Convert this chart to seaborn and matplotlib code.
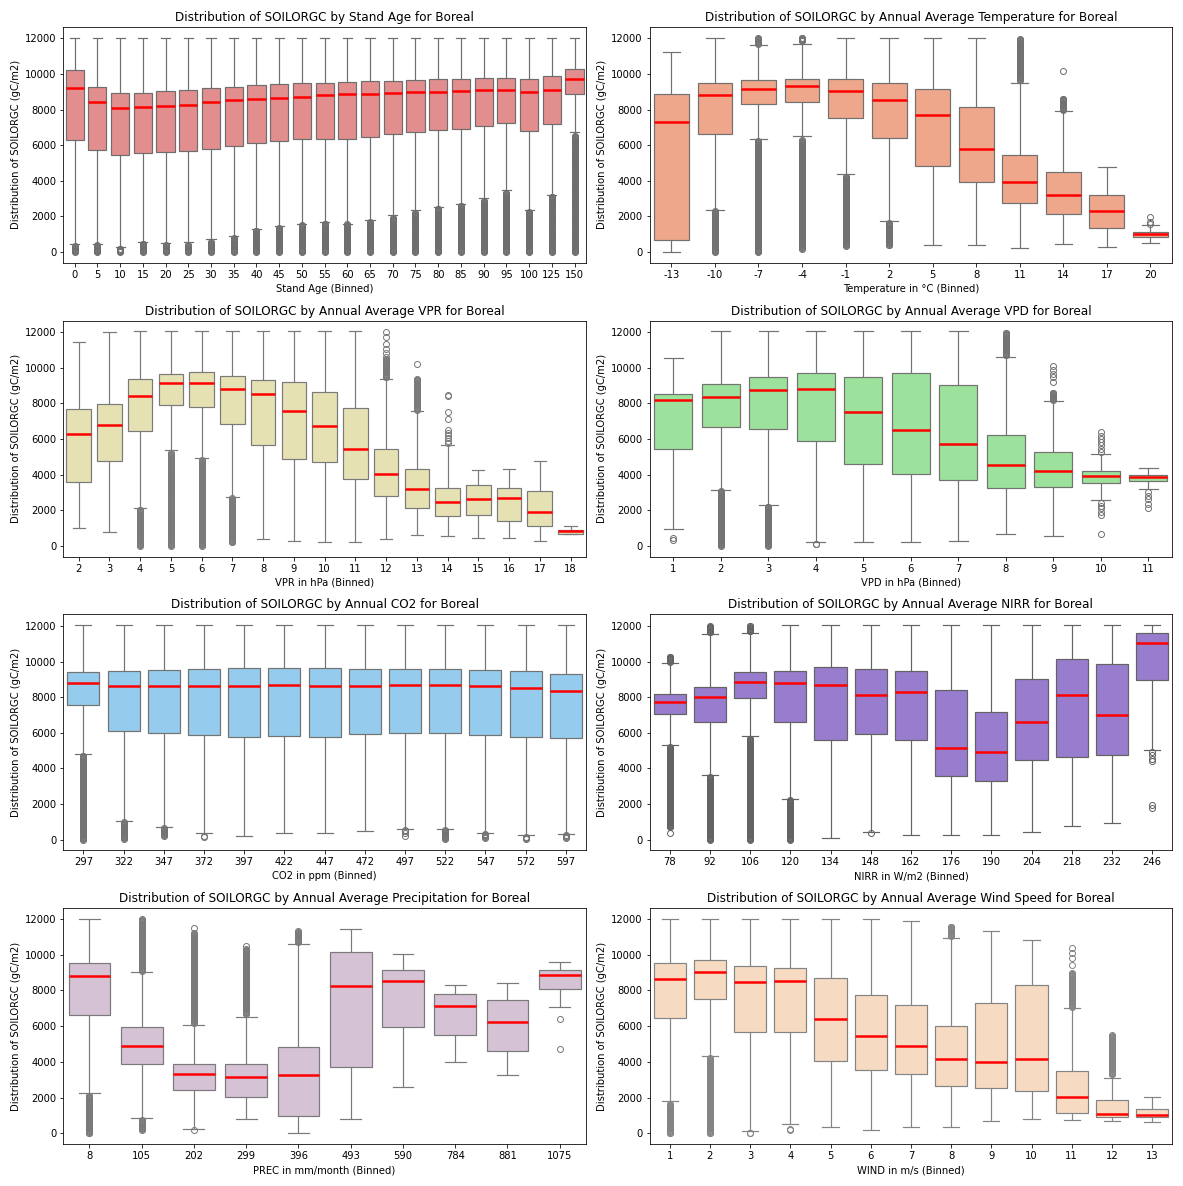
import numpy as np
import pandas as pd
import matplotlib
matplotlib.use("Agg")
import matplotlib.pyplot as plt
import seaborn as sns

# ---------------- data ----------------
# Stand Age
age_bins = ['0', '5', '10', '15', '20', '25', '30', '35', '40', '45', '50', '55', '60', '65',
            '70', '75', '80', '85', '90', '95', '100', '125', '150']
age_q1 = [6300, 5760, 5460, 5590, 5630, 5680, 5810, 5930, 6150, 6260, 6340, 6370, 6370, 6490,
          6620, 6750, 6860, 6920, 7080, 7270, 6800, 7210, 8860]
age_med = [9200, 8410, 8090, 8170, 8220, 8280, 8410, 8520, 8620, 8670, 8730, 8800, 8860, 8860,
           8930, 8970, 8970, 9050, 9100, 9100, 8990, 9100, 9740]
age_q3 = [10220, 9290, 8950, 8950, 9050, 9100, 9210, 9290, 9400, 9460, 9510, 9510, 9570, 9630,
          9630, 9680, 9740, 9740, 9790, 9790, 9740, 9870, 10280]
age_wlo = [430, 480, 300, 560, 480, 480, 660, 900, 1280, 1470, 1600, 1680, 1680, 1760,
           2000, 2280, 2540, 2680, 2980, 3420, 2330, 3230, 6620]
age_whi = [12050] * 23
age_out_ranges = {'0': [(0, 350)], '5': [(0, 400)], '10': [(0, 220)], '15': [(0, 480)],
                  '20': [(0, 400)], '25': [(0, 400)], '30': [(0, 585)], '35': [(0, 830)],
                  '40': [(0, 1200)], '45': [(0, 1390)], '50': [(0, 1540)], '55': [(0, 1610)],
                  '60': [(0, 1610)], '65': [(0, 1690)], '70': [(0, 1930)], '75': [(0, 2210)],
                  '80': [(0, 2470)], '85': [(0, 2600)], '90': [(0, 2900)], '95': [(0, 3350)],
                  '100': [(0, 2250)], '125': [(0, 3150)], '150': [(0, 6550)]}
age_out_points = {}

# Temperature
temp_bins = ['-13', '-10', '-7', '-4', '-1', '2', '5', '8', '11', '14', '17', '20']
temp_q1 = [690, 6620, 8300, 8450, 7550, 6390, 4860, 3940, 2730, 2150, 1380, 860]
temp_med = [7290, 8800, 9160, 9330, 9050, 8560, 7700, 5790, 3930, 3230, 2280, 1010]
temp_q3 = [8900, 9480, 9640, 9740, 9700, 9480, 9180, 8130, 5480, 4470, 3200, 1120]
temp_wlo = [0, 2370, 6340, 6390, 4360, 1740, 410, 410, 220, 470, 300, 520]
temp_whi = [11210, 12050, 11630, 11780, 12050, 12050, 12050, 12050, 9510, 7910, 4770, 1510]
temp_out_ranges = {'-10': [(0, 2300)], '-7': [(0, 6250), (11700, 12050)],
                   '-4': [(200, 6300), (11850, 12050)], '-1': [(350, 4250)], '2': [(380, 1650)],
                   '11': [(9650, 12000)], '14': [(7980, 8650)]}
temp_out_points = {'14': [10170], '20': [1600, 1680, 1960]}

# VPR
vpr_bins = [str(v) for v in range(2, 19)]
vpr_q1 = [3610, 4790, 6470, 7930, 7790, 6820, 5640, 4900, 4730, 3740, 2800, 2150, 1680, 1760, 1400, 1120, 690]
vpr_med = [6260, 6790, 8410, 9140, 9140, 8800, 8520, 7590, 6730, 5440, 4060, 3180, 2490, 2650, 2710, 1910, 820]
vpr_q3 = [7660, 7960, 9350, 9640, 9760, 9530, 9330, 9180, 8650, 7720, 5460, 4320, 3270, 3440, 3250, 3080, 880]
vpr_wlo = [990, 800, 2150, 5270, 4950, 2750, 360, 300, 220, 220, 360, 600, 540, 470, 470, 300, 650]
vpr_whi = [11440, 12040, 12050, 12050, 12050, 12050, 12050, 12050, 12050, 12050, 9360, 7610, 5640,
           4280, 4320, 4790, 1120]
vpr_out_ranges = {'4': [(0, 2050)], '5': [(0, 5200)], '6': [(0, 4800)], '7': [(200, 2700)],
                  '12': [(9460, 10500)], '13': [(7650, 9400)]}
vpr_out_points = {'12': [10600, 10840, 11060, 11350, 11720, 12040], '13': [10220],
                  '14': [5750, 5900, 6050, 6200, 6350, 6500, 7130, 7510, 8400, 8500]}

# VPD
vpd_bins = [str(v) for v in range(1, 12)]
vpd_q1 = [5420, 6690, 6580, 5890, 4580, 4020, 3680, 3270, 3310, 3550, 3630]
vpd_med = [8170, 8360, 8750, 8800, 7530, 6490, 5720, 4560, 4220, 3930, 3870]
vpd_q3 = [8540, 9070, 9480, 9700, 9480, 9700, 9010, 6210, 5250, 4190, 3960]
vpd_wlo = [930, 3160, 2280, 190, 220, 220, 300, 640, 540, 2580, 3220]
vpd_whi = [10580, 12050, 12050, 12050, 12050, 12050, 12050, 10640, 8150, 5180, 4370]
vpd_out_ranges = {'2': [(0, 3100)], '3': [(0, 2200)], '8': [(10700, 12000)], '9': [(8200, 8600)]}
vpd_out_points = {'1': [350, 450], '4': [80, 130], '9': [9230, 9480, 9660, 9850, 10130],
                  '10': [5300, 5450, 5650, 5850, 6000, 6150, 6400, 2400, 2250, 2100, 1900, 1750, 690],
                  '11': [3000, 2800, 2620, 2350, 2130]}

# CO2
co2_bins = ['297', '322', '347', '372', '397', '422', '447', '472', '497', '522', '547', '572', '597']
co2_q1 = [7560, 6100, 5990, 5900, 5770, 5820, 5770, 5930, 5990, 5990, 5880, 5770, 5710]
co2_med = [8810, 8620, 8620, 8620, 8620, 8700, 8620, 8620, 8700, 8700, 8620, 8530, 8360]
co2_q3 = [9400, 9480, 9540, 9570, 9630, 9630, 9630, 9570, 9570, 9570, 9540, 9480, 9290]
co2_wlo = [4800, 1060, 730, 370, 190, 355, 355, 430, 620, 620, 355, 240, 300]
co2_whi = [12050] * 13
co2_out_ranges = {'297': [(0, 4750)], '322': [(50, 1000)], '347': [(230, 650)],
                  '522': [(50, 550)], '547': [(120, 330)], '572': [(40, 170)], '597': [(115, 260)]}
co2_out_points = {'372': [150, 200], '497': [200, 350, 500, 560]}

# NIRR
nirr_bins = ['78', '92', '106', '120', '134', '148', '162', '176', '190', '204', '218', '232', '246']
nirr_q1 = [7040, 6590, 7970, 6590, 5580, 5930, 5580, 3560, 3320, 4500, 4650, 4780, 8980]
nirr_med = [7760, 7990, 8860, 8810, 8700, 8120, 8290, 5150, 4930, 6620, 8100, 7020, 11030]
nirr_q3 = [8190, 8600, 9420, 9480, 9700, 9590, 9480, 8380, 7150, 9030, 10170, 9850, 11630]
nirr_wlo = [5300, 3620, 5770, 2300, 90, 450, 240, 240, 240, 430, 770, 930, 5020]
nirr_whi = [9930, 11550, 11640, 12050, 12050, 12050, 12050, 12050, 12050, 12050, 12050, 12050, 12050]
nirr_out_ranges = {'78': [(700, 5200), (10000, 10280)], '92': [(0, 3550), (11650, 12010)],
                   '106': [(0, 5700), (11700, 12050)], '120': [(0, 2250)]}
nirr_out_points = {'78': [355], '148': [360], '246': [4900, 4750, 4550, 4400, 1950, 1800]}

# Precipitation
prec_bins = ['8', '105', '202', '299', '396', '493', '590', '784', '881', '1075']
prec_q1 = [6620, 3870, 2410, 2020, 950, 3700, 5940, 5500, 4600, 8070]
prec_med = [8800, 4880, 3310, 3140, 3250, 8240, 8520, 7120, 6220, 8860]
prec_q3 = [9530, 5940, 3870, 3870, 4820, 10150, 9140, 7790, 7460, 9140]
prec_wlo = [2190, 840, 260, 785, 0, 785, 2580, 3980, 3250, 7060]
prec_whi = [12000, 9080, 6170, 6500, 10600, 11440, 10040, 8300, 8410, 9590]
prec_out_ranges = {'8': [(0, 2150)], '105': [(200, 760), (9100, 12000)],
                   '202': [(6200, 11200)], '299': [(6700, 10300)], '396': [(10700, 11300)]}
prec_out_points = {'202': [11500, 200], '299': [10500], '1075': [6400, 4700]}

# Wind speed
wind_bins = [str(v) for v in range(1, 14)]
wind_q1 = [6450, 7510, 5660, 5660, 4040, 3530, 3310, 2640, 2520, 2360, 1120, 900, 900]
wind_med = [8640, 9030, 8470, 8520, 6390, 5440, 4880, 4150, 3980, 4150, 2020, 1070, 1010]
wind_q3 = [9530, 9700, 9360, 9250, 8690, 7740, 7180, 6000, 7290, 8300, 3480, 1850, 1350]
wind_wlo = [1680, 4320, 150, 505, 340, 220, 390, 390, 670, 790, 730, 670, 620]
wind_whi = [12000, 12000, 12000, 12000, 12000, 12000, 11890, 10940, 11330, 10820, 7000, 3080, 2190]
wind_out_ranges = {'1': [(0, 1650)], '2': [(0, 4200)], '4': [(200, 260)],
                   '8': [(11050, 11600)], '11': [(7100, 9000)], '12': [(3300, 5500)]}
wind_out_points = {'3': [0, 50], '11': [9400, 9800, 10100, 10400]}

panels = [
    ("Stand Age", "Stand Age (Binned)", "lightcoral",
     age_bins, age_q1, age_med, age_q3, age_wlo, age_whi, age_out_ranges, age_out_points),
    ("Annual Average Temperature", "Temperature in °C (Binned)", "lightsalmon",
     temp_bins, temp_q1, temp_med, temp_q3, temp_wlo, temp_whi, temp_out_ranges, temp_out_points),
    ("Annual Average VPR", "VPR in hPa (Binned)", "palegoldenrod",
     vpr_bins, vpr_q1, vpr_med, vpr_q3, vpr_wlo, vpr_whi, vpr_out_ranges, vpr_out_points),
    ("Annual Average VPD", "VPD in hPa (Binned)", "lightgreen",
     vpd_bins, vpd_q1, vpd_med, vpd_q3, vpd_wlo, vpd_whi, vpd_out_ranges, vpd_out_points),
    ("Annual CO2", "CO2 in ppm (Binned)", "lightskyblue",
     co2_bins, co2_q1, co2_med, co2_q3, co2_wlo, co2_whi, co2_out_ranges, co2_out_points),
    ("Annual Average NIRR", "NIRR in W/m2 (Binned)", "mediumpurple",
     nirr_bins, nirr_q1, nirr_med, nirr_q3, nirr_wlo, nirr_whi, nirr_out_ranges, nirr_out_points),
    ("Annual Average Precipitation", "PREC in mm/month (Binned)", "thistle",
     prec_bins, prec_q1, prec_med, prec_q3, prec_wlo, prec_whi, prec_out_ranges, prec_out_points),
    ("Annual Average Wind Speed", "WIND in m/s (Binned)", "peachpuff",
     wind_bins, wind_q1, wind_med, wind_q3, wind_wlo, wind_whi, wind_out_ranges, wind_out_points),
]

N_REP = 1500       # weight of each quartile value so the quartiles are exact
DENSE_STEP = 40    # spacing used to draw a dense column of outliers


def build_frame(bins, q1, med, q3, wlo, whi, out_ranges, out_points):
    rows_bin, rows_val = [], []
    for b, a1, m, a3, lo, hi in zip(bins, q1, med, q3, wlo, whi):
        iqr = a3 - a1
        lo = max(lo, a1 - 1.5 * iqr)
        hi = min(hi, a3 + 1.5 * iqr)
        vals = [lo] + [a1] * N_REP + [m] * N_REP + [a3] * N_REP + [hi]
        for (r0, r1) in out_ranges.get(b, []):
            vals += list(np.arange(r0, r1 + 1, DENSE_STEP))
        vals += list(out_points.get(b, []))
        rows_bin += [b] * len(vals)
        rows_val += vals
    return pd.DataFrame({"bin": rows_bin, "value": rows_val})


DPI = 72
fig, axes = plt.subplots(4, 2, figsize=(1183 / DPI, 1186 / DPI), dpi=DPI)
for ax, (name, xlabel, color, bins, q1, med, q3, wlo, whi, orng, opts) in zip(axes.flat, panels):
    df = build_frame(bins, q1, med, q3, wlo, whi, orng, opts)
    sns.boxplot(data=df, x="bin", y="value", order=bins, color=color, ax=ax,
                linewidth=1.2, fliersize=6,
                medianprops=dict(color="red", linewidth=2.5))
    ax.set_title(f"Distribution of SOILORGC by {name} for Boreal", fontsize=12)
    ax.set_xlabel(xlabel)
    ax.set_ylabel("Distribution of SOILORGC (gC/m2)")
    ax.set_yticks([0, 2000, 4000, 6000, 8000, 10000, 12000])

fig.tight_layout()
fig.savefig("out.png", dpi=DPI)
